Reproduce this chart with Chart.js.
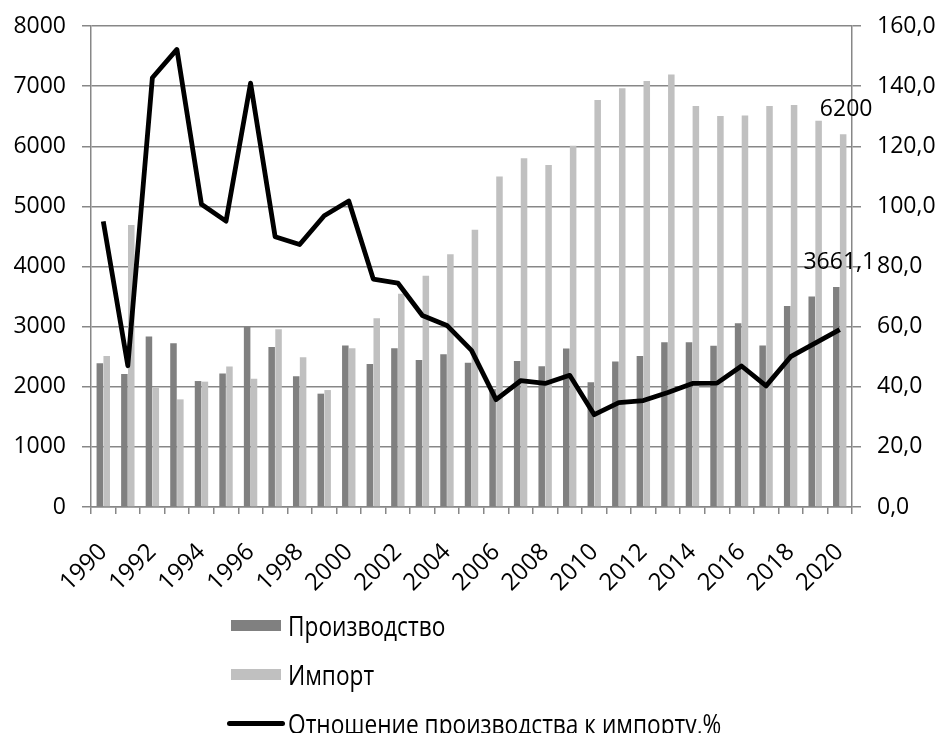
<!DOCTYPE html>
<html>
<head>
<meta charset="utf-8">
<script src="https://cdn.jsdelivr.net/npm/chart.js@4"></script>
<style>
  html, body { margin: 0; padding: 0; background: #fff; }
  #wrap { position: relative; width: 940px; height: 733px; overflow: hidden; }
  #legend { position: absolute; left: 0; top: 0; width: 940px; height: 733px; pointer-events: none; }
  .item { position: absolute; left: 227px; height: 34px; display: flex; align-items: center; }
  .label { font-family: "Open Sans", sans-serif; font-size: 28px; color: #000; white-space: nowrap;
           display: inline-block; transform: scaleX(0.81); transform-origin: left center; }
  .swatch { width: 50px; height: 11px; margin-left: 4px; margin-right: 7px; }
  .lineswatch { width: 58px; height: 5px; border-radius: 3px; background: #000; margin-right: 3px; }
</style>
</head>
<body>
<div id="wrap">
  <canvas id="myChart" width="940" height="733"></canvas>
  <div id="legend"></div>
</div>
<script>
const years = [1990, 1991, 1992, 1993, 1994, 1995, 1996, 1997, 1998, 1999,
               2000, 2001, 2002, 2003, 2004, 2005, 2006, 2007, 2008, 2009,
               2010, 2011, 2012, 2013, 2014, 2015, 2016, 2017, 2018, 2019, 2020];

// Производство
const production = [2390, 2210, 2835, 2725, 2095, 2220, 3000, 2660, 2175, 1885,
                    2685, 2380, 2640, 2445, 2540, 2400, 1960, 2430, 2340, 2635,
                    2075, 2420, 2510, 2740, 2740, 2680, 3055, 2685, 3345, 3500, 3661.1];

// Импорт
const imports = [2510, 4690, 1990, 1790, 2085, 2335, 2135, 2955, 2490, 1945,
                 2640, 3140, 3545, 3845, 4205, 4610, 5495, 5800, 5690, 6010,
                 6770, 6965, 7085, 7195, 6670, 6505, 6510, 6670, 6685, 6425, 6200];

// Отношение производства к импорту, %
const ratio = [95.0, 47.0, 142.8, 152.2, 100.7, 95.1, 141.0, 89.9, 87.3, 96.9,
               101.8, 75.8, 74.5, 63.7, 60.4, 52.1, 35.7, 42.0, 41.1, 43.8,
               30.7, 34.7, 35.4, 38.1, 41.1, 41.2, 46.9, 40.3, 50.0, 54.5, 59.0];

const leftTicks = { min: 0, max: 8000, step: 1000 };
const rightTicks = { min: 0, max: 160, step: 20 };

const tickFont = { family: "'Open Sans', sans-serif", size: 23 };
const gridColor = "#878787";

// labels over the last bars, like in the source
const endLabels = {
    id: "endLabels",
    afterDatasetsDraw(chart) {
        const ctx = chart.ctx;
        ctx.save();
        ctx.font = "23px 'Open Sans', sans-serif";
        ctx.fillStyle = "#000";
        ctx.textAlign = "center";
        ctx.textBaseline = "alphabetic";
        [0, 1].forEach(di => {
            const meta = chart.getDatasetMeta(di);
            const last = meta.data.length - 1;
            const bar = meta.data[last];
            const val = chart.data.datasets[di].data[last];
            ctx.fillText(String(val).replace(".", ","), bar.x + 3, bar.y - 18);
        });
        ctx.restore();
    }
};

const ctx = document.getElementById("myChart").getContext("2d");
const chart = new Chart(ctx, {
    type: "bar",
    data: {
        labels: years,
        datasets: [
            {
                label: "Производство",
                data: production,
                backgroundColor: "#808080",
                yAxisID: "y",
                order: 1,
                categoryPercentage: 0.56,
                barPercentage: 0.95
            },
            {
                label: "Импорт",
                data: imports,
                backgroundColor: "#c0c0c0",
                yAxisID: "y",
                order: 1,
                categoryPercentage: 0.56,
                barPercentage: 0.95
            },
            {
                type: "line",
                label: "Отношение производства к импорту,%",
                data: ratio,
                borderColor: "#000",
                backgroundColor: "#000",
                borderWidth: 4.8,
                borderJoinStyle: "round",
                pointRadius: 0,
                tension: 0,
                yAxisID: "y1",
                order: 0
            }
        ]
    },
    options: {
        responsive: false,
        animation: false,
        layout: { padding: { top: 26, left: 0, right: 0, bottom: 0 } },
        plugins: {
            legend: { display: false },
            tooltip: { enabled: false }
        },
        scales: {
            x: {
                grid: { display: true, drawOnChartArea: false, offset: true, color: gridColor, lineWidth: 1.5, tickLength: 7 },
                border: { color: gridColor, width: 1.5 },
                ticks: {
                    autoSkip: false,
                    maxRotation: 45,
                    minRotation: 45,
                    padding: 24,
                    color: "#000",
                    font: { family: "'Open Sans', sans-serif", size: 24 },
                    callback: (v, i) => (i % 2 === 0 ? String(years[i]) : "")
                },
                afterFit: s => { s.height = 226; }
            },
            y: {
                position: "left",
                min: leftTicks.min,
                max: leftTicks.max,
                ticks: {
                    stepSize: leftTicks.step,
                    color: "#000",
                    font: tickFont,
                    padding: 16,
                    callback: v => String(v)
                },
                grid: { color: gridColor, lineWidth: 1.5, tickLength: 9 },
                border: { color: gridColor, width: 1.5 },
                afterFit: s => { s.width = 91; s.paddingTop = 0; s.paddingBottom = 0; }
            },
            y1: {
                position: "right",
                min: rightTicks.min,
                max: rightTicks.max,
                ticks: {
                    stepSize: rightTicks.step,
                    color: "#000",
                    font: tickFont,
                    padding: 16,
                    callback: v => v.toFixed(1).replace(".", ",")
                },
                grid: { drawOnChartArea: false, color: gridColor, lineWidth: 1.5, tickLength: 9 },
                border: { color: gridColor, width: 1.5 },
                afterFit: s => { s.width = 88; s.paddingTop = 0; s.paddingBottom = 0; }
            }
        }
    },
    plugins: [endLabels]
});

// legend stacked in a column under the chart
const legendTops = [608, 657, 706];
const legendBox = document.getElementById("legend");
chart.data.datasets.forEach((ds, i) => {
    const item = document.createElement("div");
    item.className = "item";
    item.style.top = legendTops[i] + "px";
    const sw = document.createElement("span");
    if (ds.type === "line") {
        sw.className = "lineswatch";
    } else {
        sw.className = "swatch";
        sw.style.background = ds.backgroundColor;
    }
    const txt = document.createElement("span");
    txt.className = "label";
    txt.textContent = ds.label;
    item.appendChild(sw);
    item.appendChild(txt);
    legendBox.appendChild(item);
});
</script>
</body>
</html>
